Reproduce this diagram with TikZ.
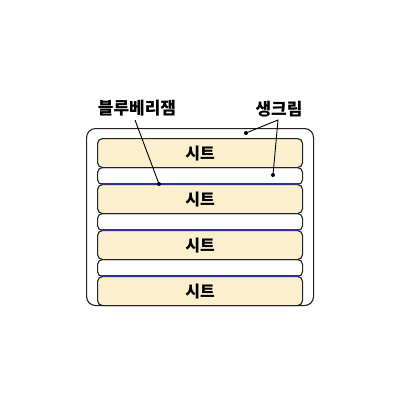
\documentclass[tikz,border=0pt]{standalone}
\usepackage{fontspec}
\newfontfamily\kr{Noto Sans CJK KR}
\definecolor{cream}{HTML}{FBEFCD}
\definecolor{jamblue}{HTML}{2E3192}
\definecolor{ink}{HTML}{222222}
\begin{document}
\begin{tikzpicture}[x=1pt,y=-1pt,
  outerbox/.style={draw=ink, line width=1.1pt, rounded corners=9pt, fill=white, inner sep=0pt, anchor=north west, minimum width=227pt, minimum height=177pt},
  sheetbox/.style={draw=ink, line width=1.1pt, rounded corners=5pt, fill=cream, inner sep=0pt, anchor=north west, minimum width=205pt, minimum height=29pt, font=\kr\bfseries\fontsize{16}{16}\selectfont},
  bandbox/.style={draw=ink, line width=1.1pt, rounded corners=5pt, fill=white, inner sep=0pt, anchor=north west, minimum width=205pt, minimum height=17pt},
  jam/.style={draw=jamblue, line width=1.8pt},
  lbl/.style={font=\kr\bfseries\fontsize{17}{17}\selectfont, inner sep=0pt},
  leader/.style={draw=black, line width=0.9pt},
  dotmark/.style={fill=black, circle, inner sep=0pt, minimum size=4pt}]
\useasboundingbox (0,0) rectangle (400,400);
\node[outerbox] (outer) at (86,128) {};
\node[bandbox] (b1) at (97,167) {};
\node[bandbox] (b2) at (97,213) {};
\node[bandbox] (b3) at (97,259) {};
\node[sheetbox] (s1) at (97,138) {시트};
\node[sheetbox] (s2) at (97,184) {시트};
\node[sheetbox] (s3) at (97,230) {시트};
\node[sheetbox] (s4) at (97,276) {시트};
\draw[jam] ([xshift=4pt]s2.north west) -- ([xshift=-4pt]s2.north east);
\draw[jam] ([xshift=4pt]s3.north west) -- ([xshift=-4pt]s3.north east);
\draw[jam] ([xshift=4pt]s4.north west) -- ([xshift=-4pt]s4.north east);
\node[lbl] (lb) at (137,108) {블루베리잼};
\node[lbl] (lc) at (279,109) {생크림};
\node[dotmark] (d1) at (159,184) {};
\node[dotmark] (d2) at (246,133) {};
\node[dotmark] (d3) at (273,175) {};
\coordinate (lbp) at (135,120);
\coordinate (lcp) at (278,120);
\draw[leader] (lbp) -- (d1.center);
\draw[leader] (d2.center) -- (lcp) -- (d3.center);
\end{tikzpicture}
\end{document}
